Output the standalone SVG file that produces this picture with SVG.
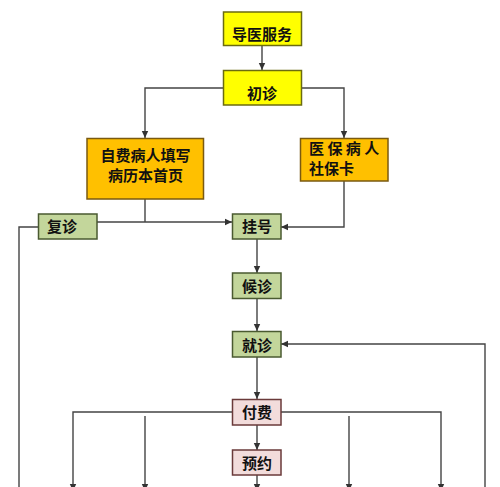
<svg xmlns="http://www.w3.org/2000/svg" width="500" height="487" viewBox="0 0 500 487">
<style>
.n{stroke-width:1.5}
.y{fill:#FFFF00;stroke:#6b6b10}
.o{fill:#FFC000;stroke:#7a5a10}
.g{fill:#C3D69B;stroke:#4a5a30}
.p{fill:#F2DCDB;stroke:#6a3a3a}
text{font-family:"Noto Sans CJK SC","Liberation Sans",sans-serif;font-weight:bold;font-size:15px;fill:#111}
.c{text-anchor:middle}
.l{fill:none;stroke:#444;stroke-width:1.4}
</style>
<defs>
<marker id="a" markerUnits="userSpaceOnUse" markerWidth="8" markerHeight="8" refX="7" refY="4" orient="auto">
<path d="M0,0.8 L7,4 L0,7.2 Z" fill="#333"/>
</marker>
</defs>
<rect width="500" height="487" fill="#fff"/>
<g id="connectors">
<path class="l" d="M262,45 V70" marker-end="url(#a)"/>
<path class="l" d="M223,88 H145 V138" marker-end="url(#a)"/>
<path class="l" d="M301,88 H344 V138" marker-end="url(#a)"/>
<path class="l" d="M145,199 V222"/>
<path class="l" d="M97,222 H232" marker-end="url(#a)"/>
<path class="l" d="M344,181 V227 H281" marker-end="url(#a)"/>
<path class="l" d="M38,227 H19 V487"/>
<path class="l" d="M257,239 V273" marker-end="url(#a)"/>
<path class="l" d="M257,298 V331" marker-end="url(#a)"/>
<path class="l" d="M485,487 V344 H281" marker-end="url(#a)"/>
<path class="l" d="M257,357 V399" marker-end="url(#a)"/>
<path class="l" d="M257,425 V450" marker-end="url(#a)"/>
<path class="l" d="M232,412 H73 V491" marker-end="url(#a)"/>
<path class="l" d="M281,412 H441 V491" marker-end="url(#a)"/>
<path class="l" d="M145,416 V491" marker-end="url(#a)"/>
<path class="l" d="M349,416 V491" marker-end="url(#a)"/>
<path class="l" d="M257,475 V491" marker-end="url(#a)"/>
</g>
<g id="daoyi"><rect class="n y" x="223.5" y="12" width="78" height="33.5"/><text class="c" x="262" y="40">导医服务</text></g>
<g id="chuzhen"><rect class="n y" x="223.5" y="70.5" width="78" height="34.5"/><text class="c" x="262" y="99">初诊</text></g>
<g id="zifei"><rect class="n o" x="87" y="138.5" width="116.5" height="60.5"/><text class="c"><tspan x="145.5" y="161">自费病人填写</tspan><tspan x="145.5" y="181">病历本首页</tspan></text></g>
<g id="yibao"><rect class="n o" x="300.5" y="138.5" width="87.5" height="42.5"/><text xml:space="preserve"><tspan x="309" y="154">医 保 病 人</tspan><tspan x="309" y="174">社保卡</tspan></text></g>
<g id="fuzhen"><rect class="n g" x="38.5" y="214" width="58.5" height="25"/><text x="47" y="232">复诊</text></g>
<g id="guahao"><rect class="n g" x="232.5" y="214" width="48.5" height="25"/><text class="c" x="257" y="232">挂号</text></g>
<g id="houzhen"><rect class="n g" x="232.5" y="273" width="48.5" height="25.5"/><text class="c" x="257" y="292">候诊</text></g>
<g id="jiuzhen"><rect class="n g" x="232.5" y="331.5" width="48.5" height="25.5"/><text class="c" x="257" y="351">就诊</text></g>
<g id="fufei"><rect class="n p" x="232.5" y="399.5" width="48.5" height="25.5"/><text class="c" x="257" y="418">付费</text></g>
<g id="yuyue"><rect class="n p" x="232.5" y="450" width="48.5" height="25"/><text class="c" x="257" y="469">预约</text></g>
</svg>
